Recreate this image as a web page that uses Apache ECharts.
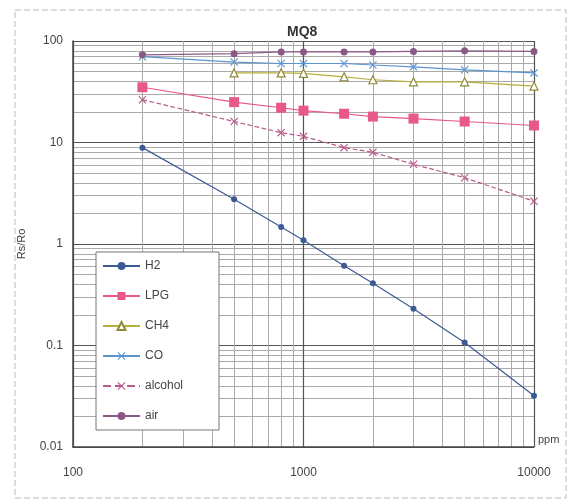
<!DOCTYPE html>
<html>
<head>
<meta charset="utf-8">
<script src="https://cdn.jsdelivr.net/npm/echarts@6/dist/echarts.min.js"></script>
<style>
  html, body { margin: 0; padding: 0; background: #fff; }
  #main { width: 579px; height: 503px; }
</style>
</head>
<body>
<div id="main"></div>
<script>
// concentrations (ppm)
const ppm = [200, 500, 800, 1000, 1500, 2000, 3000, 5000, 10000]

// Rs/Ro
const h2 = [8.9, 2.76, 1.47, 1.09, 0.61, 0.41, 0.23, 0.107, 0.032]
const lpg = [35, 25, 22, 20.6, 19.2, 18, 17.2, 16.1, 14.7]
const ch4 = [null, 48.5, 48.5, 48, 44.4, 41.5, 39.6, 39.6, 36]
const co = [70, 62, 60, 60, 60, 58, 55.6, 52, 48.5]
const alcohol = [26.4, 16.1, 12.5, 11.5, 8.9, 8.0, 6.1, 4.5, 2.64]
const air = [73, 75, 78, 78, 78, 78, 79, 80, 79]

const names = ['H2', 'LPG', 'CH4', 'CO', 'alcohol', 'air']
const xTicks = [100, 1000, 10000]
const yTicks = [0.01, 0.1, 1, 10, 100]

const crossMark = 'path://M0,1L1,0L5,4L9,0L10,1L6,5L10,9L9,10L5,6L1,10L0,9L4,5Z'

const pairs = vals => ppm.map((p, i) => [p, vals[i]]).filter(d => d[1] != null)
const tickText = list => v => {
  const t = list.find(k => Math.abs(k - v) / k < 1e-6)
  return t != null ? String(t) : ''
}

const chart = echarts.init(document.getElementById('main'))

const mk = (name, vals, color, symbol, size, extra) => Object.assign({
  name: name,
  type: 'line',
  data: pairs(vals),
  symbol: symbol,
  symbolSize: size,
  showAllSymbol: true,
  lineStyle: { color: color, width: 1.2 },
  itemStyle: { color: color },
  z: 5
}, extra || {})

chart.setOption({
  backgroundColor: '#fff',
  textStyle: { fontFamily: 'Liberation Sans' },
  animation: false,
  title: {
    text: 'MQ8',
    left: 282,
    top: 20,
    textStyle: { fontSize: 14, fontWeight: 'bold', color: '#333' }
  },
  graphic: [{
    type: 'rect',
    shape: { x: 15, y: 10, width: 551, height: 488 },
    style: { fill: 'none', stroke: '#bbb', lineWidth: 1, lineDash: [6, 3] },
    silent: true
  }],
  grid: { left: 73, right: 45, top: 41, bottom: 56 },
  legend: {
    orient: 'vertical',
    left: 96,
    top: 252,
    itemWidth: 37,
    itemHeight: 10,
    itemGap: 18,
    padding: [8, 36, 8, 6],
    backgroundColor: '#fff',
    borderColor: '#777',
    borderWidth: 1,
    textStyle: { fontSize: 12, color: '#444' },
    data: names
  },
  xAxis: {
    type: 'log',
    logBase: 10,
    min: 100,
    max: 10000,
    name: 'ppm',
    nameLocation: 'end',
    nameGap: 4,
    nameTextStyle: { fontSize: 11, color: '#444', verticalAlign: 'bottom', padding: [0, 0, 2, 0] },
    axisLine: { lineStyle: { color: '#444', width: 1.5 } },
    axisTick: { show: false },
    axisLabel: { color: '#444', fontSize: 12, margin: 20, formatter: tickText(xTicks) },
    splitLine: { show: true, lineStyle: { color: '#555', width: 1.2 } },
    minorTick: { show: false, splitNumber: 9 },
    minorSplitLine: { show: true, lineStyle: { color: '#aaa', width: 1 } }
  },
  yAxis: {
    type: 'log',
    logBase: 10,
    min: 0.01,
    max: 100,
    name: 'Rs/Ro',
    nameLocation: 'middle',
    nameGap: 46,
    nameTextStyle: { fontSize: 11, color: '#444' },
    axisLine: { lineStyle: { color: '#444', width: 1.5 } },
    axisTick: { show: false },
    axisLabel: { color: '#444', fontSize: 12, margin: 10, formatter: tickText(yTicks) },
    splitLine: { show: true, lineStyle: { color: '#555', width: 1.2 } },
    minorTick: { show: false, splitNumber: 9 },
    minorSplitLine: { show: true, lineStyle: { color: '#aaa', width: 1 } }
  },
  series: [
    mk('H2', h2, '#3c5a96', 'circle', 6),
    mk('LPG', lpg, '#e8588a', 'rect', 10),
    mk('CH4', ch4, '#b7ae3c', 'triangle', 8, { itemStyle: { color: '#fff', borderColor: '#8f8a3a', borderWidth: 1.2 } }),
    mk('CO', co, '#5b95cf', crossMark, 8),
    mk('alcohol', alcohol, '#b85a8a', crossMark, 8, { lineStyle: { color: '#b85a8a', width: 1.2, type: 'dashed' } }),
    mk('air', air, '#8a5a86', 'circle', 7)
  ]
})
</script>
</body>
</html>
